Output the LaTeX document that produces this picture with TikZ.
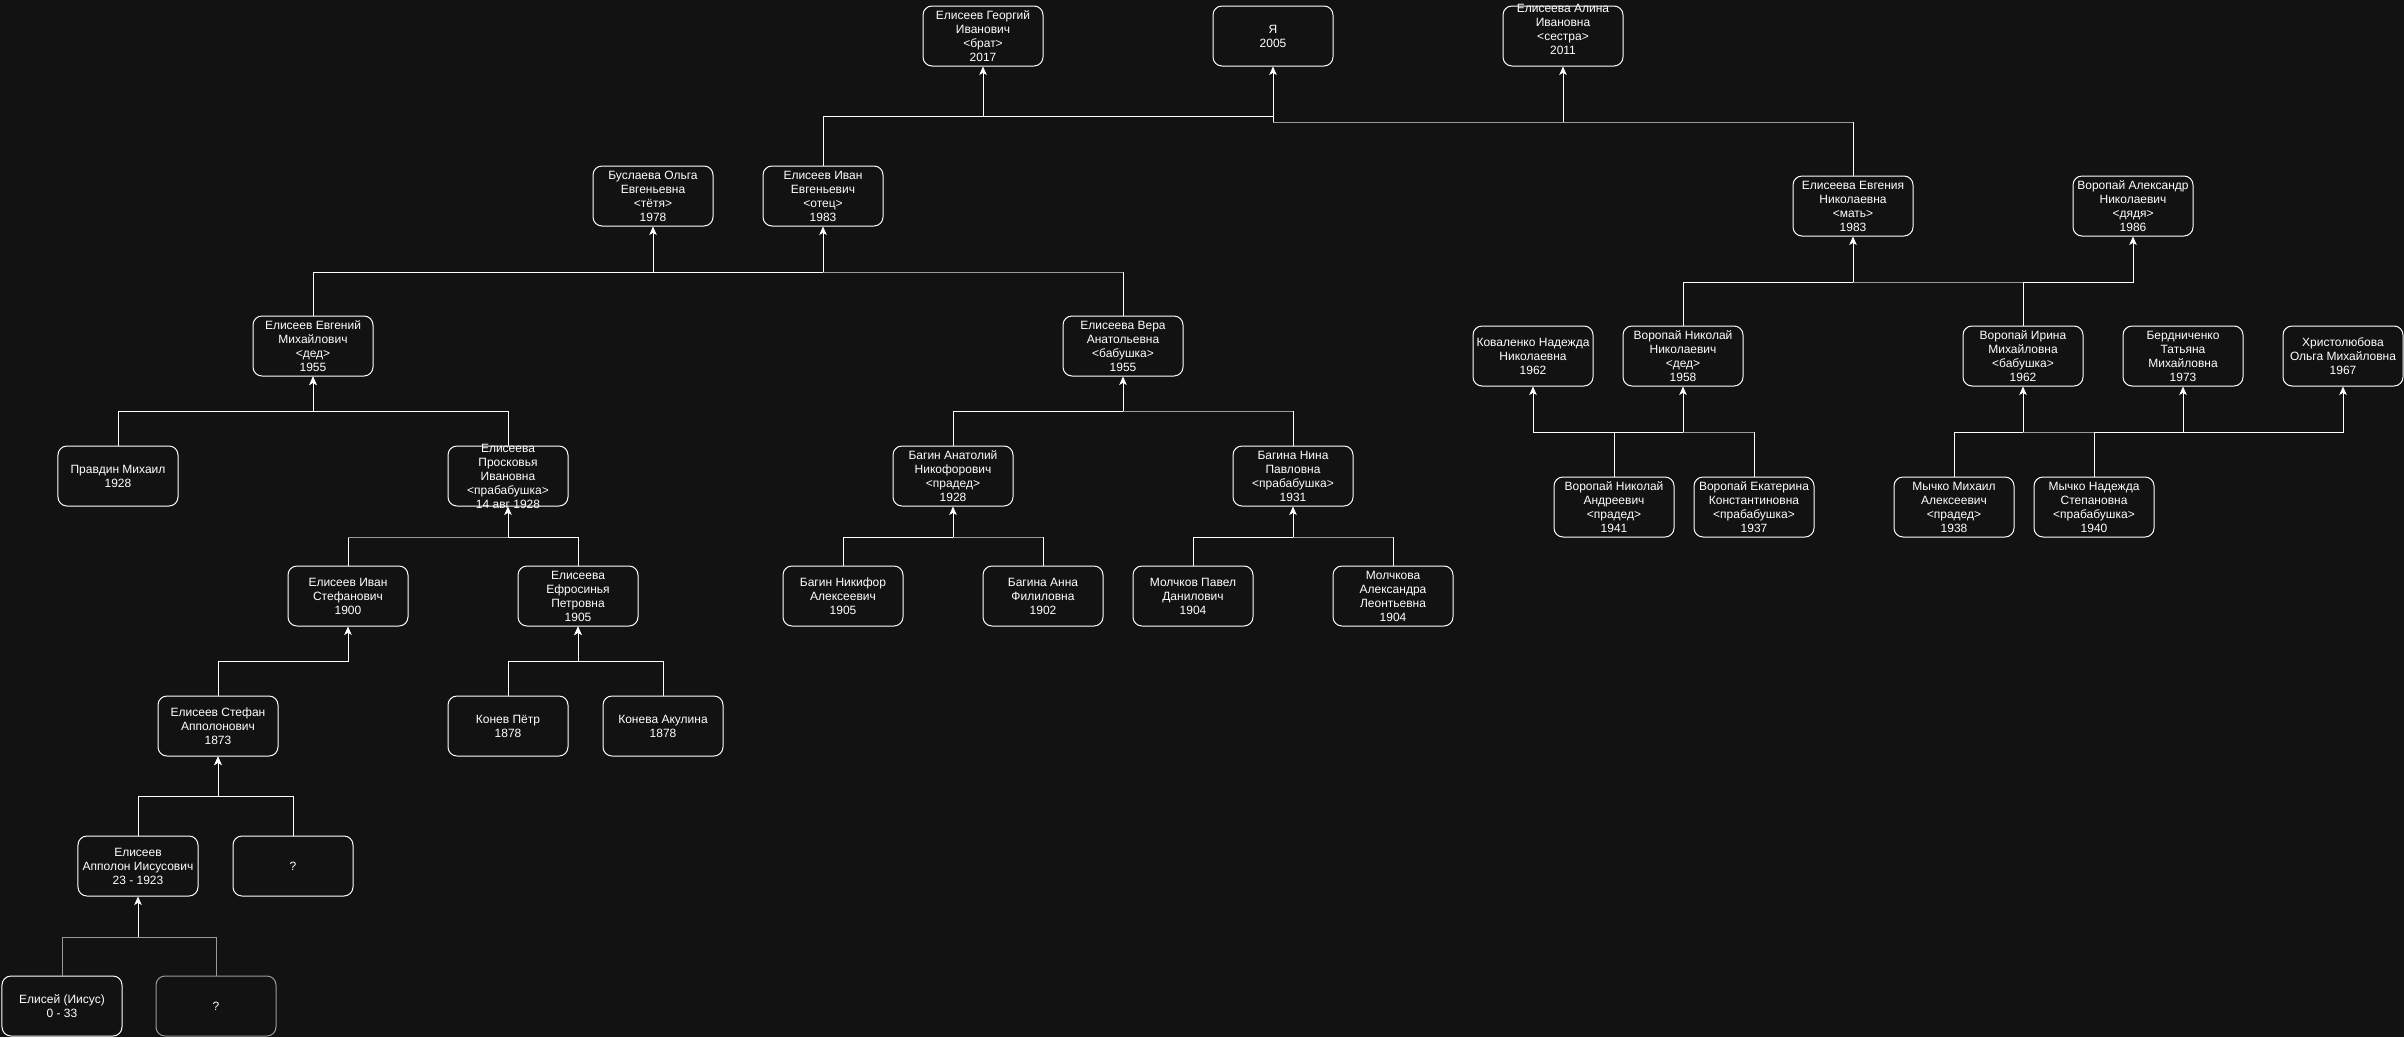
\documentclass[tikz,border=0pt]{standalone}
\usepackage{fontspec}
\setmainfont{Liberation Sans}
\usetikzlibrary{arrows.meta}

\definecolor{bgc}{HTML}{121212}
\definecolor{edgegray}{HTML}{9A9A9A}

\begin{document}
\begin{tikzpicture}[x=0.2mm,y=-0.2mm,
  ptext/.style={text=white, font=\fontsize{6.83pt}{7.97pt}\selectfont, align=center, inner sep=0pt},
  person/.style={ptext, draw=white, fill=bgc, line width=0.2mm, rounded corners=1.8mm,
                 minimum width=24mm, minimum height=12mm},
  wire/.style={draw=white, line width=0.2mm},
  wireg/.style={draw=edgegray, line width=0.2mm},
  arr/.style={-{Stealth[length=1.7mm,width=1.5mm,inset=0.45mm]}}
]
\fill[bgc] (0,0) rectangle (2404,1037);
\useasboundingbox (0,0) rectangle (2404,1037);

% generation of the children
\node[person] (georgiy) at (983,36) {Елисеев Георгий\\Иванович\\<брат>\\2017};
\node[person] (ya) at (1273,36) {Я\\2005};
\node[person, label={[ptext,yshift=1.4mm]center:{Елисеева Алина\\Ивановна\\<сестра>\\2011}}] (alina) at (1563,36) {};

% parents, aunt and uncle
\node[person] (buslaeva) at (653,196) {Буслаева Ольга\\Евгеньевна\\<тётя>\\1978};
\node[person] (ivan) at (823,196) {Елисеев Иван\\Евгеньевич\\<отец>\\1983};
\node[person] (evgenia) at (1853,206) {Елисеева Евгения\\Николаевна\\<мать>\\1983};
\node[person] (aleksandr) at (2133,206) {Воропай Александр\\Николаевич\\<дядя>\\1986};

% grandparents
\node[person] (evgeniy) at (313,346) {Елисеев Евгений\\Михайлович\\<дед>\\1955};
\node[person] (vera) at (1123,346) {Елисеева Вера\\Анатольевна\\<бабушка>\\1955};
\node[person] (kovalenko) at (1533,356) {Коваленко Надежда\\Николаевна\\1962};
\node[person] (nikolayN) at (1683,356) {Воропай Николай\\Николаевич\\<дед>\\1958};
\node[person] (irina) at (2023,356) {Воропай Ирина\\Михайловна\\<бабушка>\\1962};
\node[person] (berdnichenko) at (2183,356) {Бердниченко\\Татьяна\\Михайловна\\1973};
\node[person] (khristolyubova) at (2343,356) {Христолюбова\\Ольга Михайловна\\1967};

% great-grandparents
\node[person] (pravdin) at (118,476) {Правдин Михаил\\1928};
\node[person, label={[ptext]center:{Елисеева\\Просковья\\Ивановна\\<прабабушка>\\14 авг 1928}}] (proskovya) at (508,476) {};
\node[person] (anatoliy) at (953,476) {Багин Анатолий\\Никофорович\\<прадед>\\1928};
\node[person] (nina) at (1293,476) {Багина Нина\\Павловна\\<прабабушка>\\1931};
\node[person] (nikolayA) at (1614,507) {Воропай Николай\\Андреевич\\<прадед>\\1941};
\node[person] (ekaterina) at (1754,507) {Воропай Екатерина\\Константиновна\\<прабабушка>\\1937};
\node[person] (mikhail) at (1954,507) {Мычко Михаил\\Алексеевич\\<прадед>\\1938};
\node[person] (nadezhda) at (2094,507) {Мычко Надежда\\Степановна\\<прабабушка>\\1940};

% older generations
\node[person] (ivanS) at (348,596) {Елисеев Иван\\Стефанович\\1900};
\node[person] (efrosinya) at (578,596) {Елисеева\\Ефросинья\\Петровна\\1905};
\node[person] (nikifor) at (843,596) {Багин Никифор\\Алексеевич\\1905};
\node[person] (anna) at (1043,596) {Багина Анна\\Филиловна\\1902};
\node[person] (pavel) at (1193,596) {Молчков Павел\\Данилович\\1904};
\node[person] (molchkova) at (1393,596) {Молчкова\\Александра\\Леонтьевна\\1904};

\node[person] (stefan) at (218,726) {Елисеев Стефан\\Апполонович\\1873};
\node[person] (konev) at (508,726) {Конев Пётр\\1878};
\node[person] (koneva) at (663,726) {Конева Акулина\\1878};

\node[person] (appolon) at (138,866) {Елисеев\\Апполон Иисусович\\23 - 1923};
\node[person] (q1) at (293,866) {?};

\node[person] (elisey) at (62,1006) {Елисей (Иисус)\\0 - 33};
\node[person, draw=edgegray] (q2) at (216,1006) {?};

% levels of the connector bars
\coordinate (ja) at (0,116);
\coordinate (jb) at (0,122);
\coordinate (jc) at (0,272);
\coordinate (jd) at (0,282);
\coordinate (je) at (0,411);
\coordinate (jf) at (0,432);
\coordinate (jg) at (0,537);
\coordinate (jh) at (0,661);
\coordinate (ji) at (0,796);
\coordinate (jj) at (0,937);

% Иван -> Георгий, Я
\draw[wire,arr] (ivan.north) |- (georgiy.south |- ja) -- (georgiy.south);
\draw[wire,arr] (ivan.north) |- (ya.south |- ja) -- (ya.south);
% Евгения -> Я, Алина
\draw[wire] (evgenia.north) -- (evgenia.north |- jb);
\draw[wireg] (evgenia.north |- jb) -- (ya.south |- jb);
\draw[wire] (ya.south |- jb) -- (ya.south |- ja);
\draw[wire,arr] (alina.south |- jb) -- (alina.south);

% Евгений -> Буслаева, Иван; Вера -> Иван
\draw[wire,arr] (evgeniy.north) |- (buslaeva.south |- jc) -- (buslaeva.south);
\draw[wire,arr] (evgeniy.north) |- (ivan.south |- jc) -- (ivan.south);
\draw[wire] (vera.north) -- (vera.north |- jc);
\draw[wireg] (vera.north |- jc) -- (ivan.south |- jc);

% Николай Николаевич, Ирина -> Евгения, Александр
\draw[wire,arr] (nikolayN.north) |- (evgenia.south |- jd) -- (evgenia.south);
\draw[wire] (irina.north) -- (irina.north |- jd);
\draw[wireg] (irina.north |- jd) -- (evgenia.south |- jd);
\draw[wire,arr] (irina.north) |- (aleksandr.south |- jd) -- (aleksandr.south);

% Правдин, Просковья -> Евгений
\draw[wire,arr] (pravdin.north) |- (evgeniy.south |- je) -- (evgeniy.south);
\draw[wire,arr] (proskovya.north) |- (evgeniy.south |- je) -- (evgeniy.south);
% Анатолий, Нина -> Вера
\draw[wire,arr] (anatoliy.north) |- (vera.south |- je) -- (vera.south);
\draw[wire] (nina.north) -- (nina.north |- je);
\draw[wireg] (nina.north |- je) -- (vera.south |- je);

% Николай Андреевич, Екатерина -> Коваленко, Николай Николаевич
\draw[wire,arr] (nikolayA.north) |- (kovalenko.south |- jf) -- (kovalenko.south);
\draw[wire,arr] (nikolayA.north) |- (nikolayN.south |- jf) -- (nikolayN.south);
\draw[wire] (ekaterina.north) -- (ekaterina.north |- jf);
\draw[wireg] (ekaterina.north |- jf) -- (nikolayN.south |- jf);

% Михаил, Надежда -> Ирина, Бердниченко, Христолюбова
\draw[wire,arr] (mikhail.north) |- (irina.south |- jf) -- (irina.south);
\draw[wire] (nadezhda.north) -- (nadezhda.north |- jf);
\draw[wireg] (nadezhda.north |- jf) -- (irina.south |- jf);
\draw[wire,arr] (nadezhda.north) |- (berdnichenko.south |- jf) -- (berdnichenko.south);
\draw[wire,arr] (nadezhda.north) |- (khristolyubova.south |- jf) -- (khristolyubova.south);

% Иван Стефанович, Ефросинья -> Просковья
\draw[wire] (ivanS.north) -- (ivanS.north |- jg);
\draw[wireg] (ivanS.north |- jg) -- (proskovya.south |- jg);
\draw[wire,arr] (efrosinya.north) |- (proskovya.south |- jg) -- (proskovya.south);
% Никифор, Анна -> Анатолий
\draw[wire,arr] (nikifor.north) |- (anatoliy.south |- jg) -- (anatoliy.south);
\draw[wire] (anna.north) -- (anna.north |- jg);
\draw[wireg] (anna.north |- jg) -- (anatoliy.south |- jg);
% Павел, Молчкова -> Нина
\draw[wire,arr] (pavel.north) |- (nina.south |- jg) -- (nina.south);
\draw[wire] (molchkova.north) -- (molchkova.north |- jg);
\draw[wireg] (molchkova.north |- jg) -- (nina.south |- jg);

% Стефан -> Иван Стефанович; Конев, Конева -> Ефросинья
\draw[wire,arr] (stefan.north) |- (ivanS.south |- jh) -- (ivanS.south);
\draw[wire,arr] (konev.north) |- (efrosinya.south |- jh) -- (efrosinya.south);
\draw[wire,arr] (koneva.north) |- (efrosinya.south |- jh) -- (efrosinya.south);

% Апполон, ? -> Стефан
\draw[wire,arr] (appolon.north) |- (stefan.south |- ji) -- (stefan.south);
\draw[wire,arr] (q1.north) |- (stefan.south |- ji) -- (stefan.south);

% Елисей, ? -> Апполон
\draw[wireg] (elisey.north) |- (appolon.south |- jj);
\draw[wireg] (q2.north) |- (appolon.south |- jj);
\draw[wire,arr] (appolon.south |- jj) -- (appolon.south);
\end{tikzpicture}
\end{document}
